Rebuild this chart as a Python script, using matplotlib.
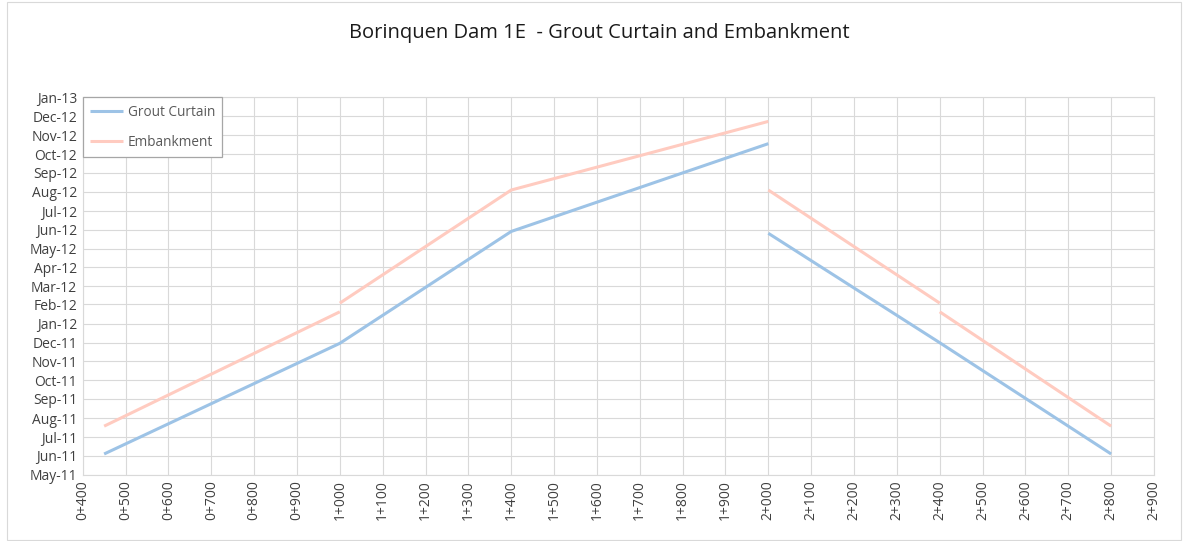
import matplotlib
matplotlib.use("Agg")
import matplotlib.pyplot as plt
import matplotlib.dates as mdates
import numpy as np
from datetime import datetime

# ---- data ----
chainage_ticks = list(range(400, 3000, 100))

grout_chainage = [450, 1000, 1400, 2000, None, 2000, 2400, 2800]
grout_dates = ["2011-06-04", "2011-11-30", "2012-05-29", "2012-10-18", None,
               "2012-05-26", "2011-12-01", "2011-06-04"]

emb_chainage = [450, 1000, None, 1000, 1400, 2000, None, 2000, 2400, None, 2400, 2800]
emb_dates = ["2011-07-19", "2012-01-20", None, "2012-02-03", "2012-08-04", "2012-11-23", None,
             "2012-08-04", "2012-02-03", None, "2012-01-20", "2011-07-19"]

series_names = ["Grout Curtain", "Embankment"]
title = "Borinquen Dam 1E  - Grout Curtain and Embankment"

# ---- styles ----
plt.rcParams['font.family'] = ['Open Sans', 'DejaVu Sans']
blue = "#9DC3E6"
pink = "#FFCBC0"
grid_c = "#D9D9D9"
txt_c = "#404040"

W, H = 1188, 541
fig = plt.figure(figsize=(W / 100, H / 100), dpi=100)
left, right, top, bottom = 82.7, 1154, 97.3, 475
ax = fig.add_axes([left / W, 1 - bottom / H, (right - left) / W, (bottom - top) / H])


def conv(xs, ds):
    x = np.array([np.nan if v is None else v for v in xs], dtype=float)
    y = np.array([np.nan if d is None else mdates.date2num(datetime.strptime(d, "%Y-%m-%d")) for d in ds])
    return x, y

gx, gy = conv(grout_chainage, grout_dates)
ex, ey = conv(emb_chainage, emb_dates)

ax.plot(gx, gy, color=blue, lw=2.2, solid_capstyle='butt', label=series_names[0], zorder=3)
ax.plot(ex, ey, color=pink, lw=2.2, solid_capstyle='butt', label=series_names[1], zorder=3)

ax.set_xlim(400, 2900)
ax.set_xticks(chainage_ticks)
ax.set_xticklabels([f"{v // 1000}+{v % 1000:03d}" for v in chainage_ticks], rotation=90,
                   fontsize=10, color=txt_c)

ax.set_ylim(mdates.date2num(datetime(2011, 5, 1)), mdates.date2num(datetime(2013, 1, 1)))
ax.yaxis.set_major_locator(mdates.MonthLocator())
ax.yaxis.set_major_formatter(mdates.DateFormatter("%b-%y"))

ax.grid(True, color=grid_c, lw=0.8, zorder=0)
ax.set_axisbelow(True)
for s in ax.spines.values():
    s.set_color(grid_c)
    s.set_linewidth(0.8)
ax.tick_params(axis='both', length=0, pad=4, labelsize=10, colors=txt_c)

leg = ax.legend(loc='upper left', bbox_to_anchor=(0, 1), borderaxespad=0, fancybox=False,
                edgecolor="#A6A6A6", framealpha=1, fontsize=9.8, handlelength=2.4,
                labelspacing=1.1, handletextpad=0.35, borderpad=0.55)
leg.get_frame().set_linewidth(0.9)
for t in leg.get_texts():
    t.set_color("#595959")

fig.text(599 / W, 1 - 33 / H, title, ha='center', va='center', fontsize=14.5, color="#1a1a1a")

# chart area border
fig.add_artist(plt.Rectangle((7 / W, 1 / H), (W - 14) / W, (H - 3) / H, transform=fig.transFigure,
                             fill=False, edgecolor=grid_c, lw=0.8))

fig.savefig("out.png", dpi=100)
